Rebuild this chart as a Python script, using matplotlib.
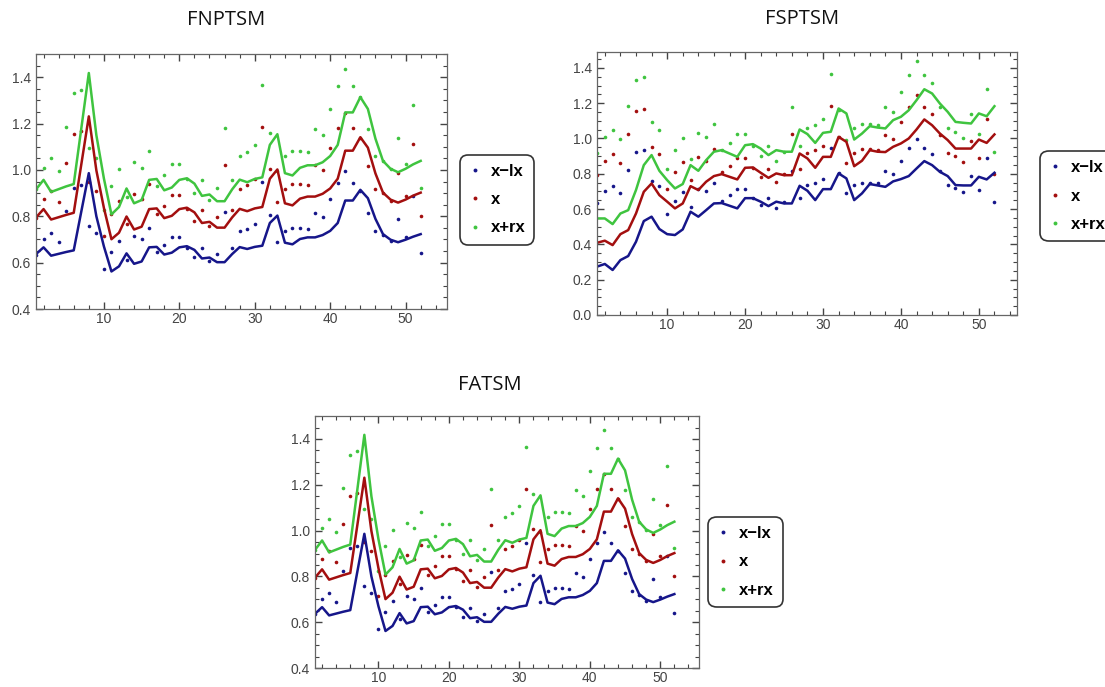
"""
Three panels of weekly index values with lower / centre / upper bands.
Dots are the raw values, lines are the fitted curves.
"""

import matplotlib
matplotlib.use("Agg")
import matplotlib.pyplot as plt
from matplotlib.lines import Line2D
from matplotlib.ticker import MultipleLocator

weeks = list(range(1, 53))

# raw points (same in every panel)
dots_low = [0.635, 0.70, 0.728, 0.69, 0.822, 0.922, 0.933, 0.76, 0.728, 0.572,
            0.646, 0.694, 0.613, 0.716, 0.70, 0.75, 0.646, 0.677, 0.712, 0.712,
            0.665, 0.624, 0.663, 0.605, 0.638, 0.818, 0.663, 0.735, 0.746, 0.768,
            0.946, 0.805, 0.689, 0.735, 0.75, 0.75, 0.746, 0.816, 0.798, 0.875,
            0.944, 0.996, 0.944, 0.91, 0.815, 0.735, 0.719, 0.694, 0.789, 0.71,
            0.888, 0.64]
dots_mid = [0.794, 0.875, 0.910, 0.863, 1.028, 1.153, 1.166, 0.950, 0.910, 0.715,
            0.808, 0.868, 0.766, 0.895, 0.875, 0.938, 0.808, 0.846, 0.890, 0.890,
            0.831, 0.780, 0.829, 0.756, 0.798, 1.023, 0.829, 0.919, 0.933, 0.960,
            1.183, 1.006, 0.861, 0.919, 0.938, 0.938, 0.933, 1.020, 0.998, 1.094,
            1.180, 1.245, 1.180, 1.138, 1.019, 0.919, 0.899, 0.868, 0.986, 0.888,
            1.110, 0.800]
dots_high = [0.916, 1.010, 1.050, 0.996, 1.186, 1.331, 1.346, 1.096, 1.050, 0.825,
             0.932, 1.002, 0.884, 1.033, 1.010, 1.082, 0.932, 0.976, 1.027, 1.027,
             0.959, 0.900, 0.957, 0.872, 0.921, 1.181, 0.957, 1.061, 1.077, 1.108,
             1.365, 1.161, 0.994, 1.061, 1.082, 1.082, 1.077, 1.177, 1.152, 1.262,
             1.362, 1.437, 1.362, 1.313, 1.176, 1.061, 1.037, 1.002, 1.138, 1.025,
             1.281, 0.923]

# fitted curves, FNPTSM (FATSM looks identical)
np_low = [0.637, 0.666, 0.630, 0.638, 0.646, 0.653, 0.82, 0.986, 0.80, 0.67,
          0.562, 0.584, 0.640, 0.595, 0.605, 0.666, 0.668, 0.635, 0.643, 0.666,
          0.671, 0.655, 0.618, 0.622, 0.602, 0.602, 0.637, 0.667, 0.659, 0.668,
          0.673, 0.771, 0.803, 0.686, 0.679, 0.702, 0.709, 0.709, 0.719, 0.737,
          0.771, 0.868, 0.868, 0.914, 0.878, 0.789, 0.723, 0.699, 0.688, 0.699,
          0.712, 0.723]
np_mid = [0.795, 0.831, 0.786, 0.796, 0.806, 0.815, 1.023, 1.231, 0.998, 0.836,
          0.701, 0.729, 0.799, 0.743, 0.755, 0.831, 0.834, 0.792, 0.802, 0.831,
          0.837, 0.817, 0.771, 0.776, 0.751, 0.751, 0.795, 0.832, 0.822, 0.834,
          0.840, 0.962, 1.002, 0.856, 0.847, 0.876, 0.885, 0.885, 0.897, 0.920,
          0.962, 1.083, 1.083, 1.141, 1.096, 0.985, 0.902, 0.872, 0.859, 0.872,
          0.889, 0.902]
np_high = [0.916, 0.957, 0.905, 0.917, 0.929, 0.939, 1.178, 1.418, 1.150, 0.963,
           0.808, 0.840, 0.920, 0.856, 0.870, 0.957, 0.961, 0.912, 0.924, 0.957,
           0.964, 0.941, 0.888, 0.894, 0.865, 0.865, 0.916, 0.958, 0.947, 0.961,
           0.968, 1.108, 1.154, 0.986, 0.976, 1.009, 1.020, 1.020, 1.033, 1.060,
           1.108, 1.248, 1.248, 1.314, 1.263, 1.135, 1.039, 1.005, 0.990, 1.005,
           1.024, 1.039]

# fitted curves, FSPTSM
sp_low = [0.274, 0.289, 0.255, 0.311, 0.334, 0.415, 0.532, 0.557, 0.487, 0.458,
          0.453, 0.485, 0.585, 0.557, 0.594, 0.632, 0.634, 0.619, 0.604, 0.662,
          0.662, 0.642, 0.617, 0.642, 0.632, 0.632, 0.732, 0.704, 0.651, 0.713,
          0.713, 0.802, 0.774, 0.651, 0.689, 0.742, 0.734, 0.726, 0.757, 0.770,
          0.787, 0.830, 0.872, 0.849, 0.811, 0.787, 0.736, 0.734, 0.734, 0.783,
          0.768, 0.806]
sp_mid = [0.409, 0.421, 0.396, 0.458, 0.481, 0.575, 0.698, 0.745, 0.679, 0.642,
          0.604, 0.632, 0.730, 0.708, 0.755, 0.787, 0.798, 0.783, 0.768, 0.834,
          0.836, 0.806, 0.777, 0.802, 0.792, 0.792, 0.915, 0.887, 0.834, 0.896,
          0.896, 1.009, 0.981, 0.843, 0.874, 0.934, 0.925, 0.923, 0.953, 0.972,
          1.000, 1.051, 1.108, 1.075, 1.028, 0.991, 0.943, 0.943, 0.943, 0.994,
          0.975, 1.023]
sp_high = [0.547, 0.547, 0.515, 0.575, 0.594, 0.708, 0.849, 0.906, 0.817, 0.764,
           0.717, 0.742, 0.849, 0.817, 0.877, 0.925, 0.934, 0.915, 0.896, 0.962,
           0.968, 0.943, 0.906, 0.934, 0.925, 0.925, 1.051, 1.025, 0.975, 1.032,
           1.038, 1.170, 1.142, 0.994, 1.028, 1.070, 1.062, 1.057, 1.104, 1.123,
           1.160, 1.217, 1.279, 1.255, 1.198, 1.151, 1.094, 1.089, 1.085, 1.142,
           1.126, 1.183]

labels = ["x\u2212lx", "x", "x+rx"]
colors = ["#16168a", "#a30f0f", "#3fc43f"]

fig = plt.figure(figsize=(11.05, 6.87), dpi=100)


def draw_panel(rect, curves, ylim, xmax):
    "Function to draw one framed panel with dots and curves"
    ax = fig.add_axes(rect)
    for pts, col in zip([dots_low, dots_mid, dots_high], colors):
        ax.plot(weeks, pts, "o", ms=2.6, color=col, mec="none")
    for curve, col in zip(curves, colors):
        ax.plot(weeks, curve, "-", lw=1.8, color=col)
    ax.set_xlim(1, xmax)
    ax.set_ylim(*ylim)
    ax.xaxis.set_major_locator(MultipleLocator(10))
    ax.xaxis.set_minor_locator(MultipleLocator(2))
    ax.yaxis.set_major_locator(MultipleLocator(0.2))
    ax.yaxis.set_minor_locator(MultipleLocator(0.05))
    ax.yaxis.set_major_formatter(plt.FuncFormatter(lambda v, p: "%.1f" % v))
    ax.tick_params(which="both", direction="in", top=True, right=True,
                   colors="#444444", labelcolor="#444444", labelsize=10)
    ax.tick_params(which="major", length=5, width=1.0)
    ax.tick_params(which="minor", length=2.8, width=0.8)
    ax.tick_params(axis="x", pad=2)
    for lab in ax.get_xticklabels() + ax.get_yticklabels():
        lab.set_family("Liberation Sans")
    for sp in ax.spines.values():
        sp.set_color("#666666")
        sp.set_linewidth(0.9)
    return ax


def draw_legend(x, y, loc):
    "Function to draw the small dot legend box"
    handles = [Line2D([], [], marker="o", ls="none", ms=2.8, color=c, mec="none")
               for c in colors]
    leg = fig.legend(handles, labels, loc=loc, bbox_to_anchor=(x, y),
                     prop={"family": "Liberation Sans", "weight": "bold", "size": 12},
                     handlelength=0.7, handletextpad=0.6, labelspacing=0.8,
                     borderpad=0.55, fancybox=True, framealpha=1)
    frame = leg.get_frame()
    frame.set_edgecolor("#333333")
    frame.set_linewidth(1.2)
    frame.set_boxstyle("round,pad=0,rounding_size=0.5")


draw_panel([0.0326, 0.5502, 0.372, 0.3712], [np_low, np_mid, np_high], (0.4, 1.5), 55.5)
draw_panel([0.5403, 0.5415, 0.3801, 0.3828], [sp_low, sp_mid, sp_high], (0.0, 1.49), 54.9)
draw_panel([0.2851, 0.0275, 0.3475, 0.3669], [np_low, np_mid, np_high], (0.4, 1.5), 55.5)

draw_legend(0.4498, 0.7096, "center")
draw_legend(0.934, 0.7147, "center left")
draw_legend(0.6747, 0.182, "center")

title_font = {"family": "Open Sans", "size": 14.5, "color": "#111111"}
fig.text(0.2045, 0.9716, "FNPTSM", ha="center", va="center", **title_font)
fig.text(0.7258, 0.972, "FSPTSM", ha="center", va="center", **title_font)
fig.text(0.4434, 0.4396, "FATSM", ha="center", va="center", **title_font)

fig.savefig("out.png", dpi=100)
